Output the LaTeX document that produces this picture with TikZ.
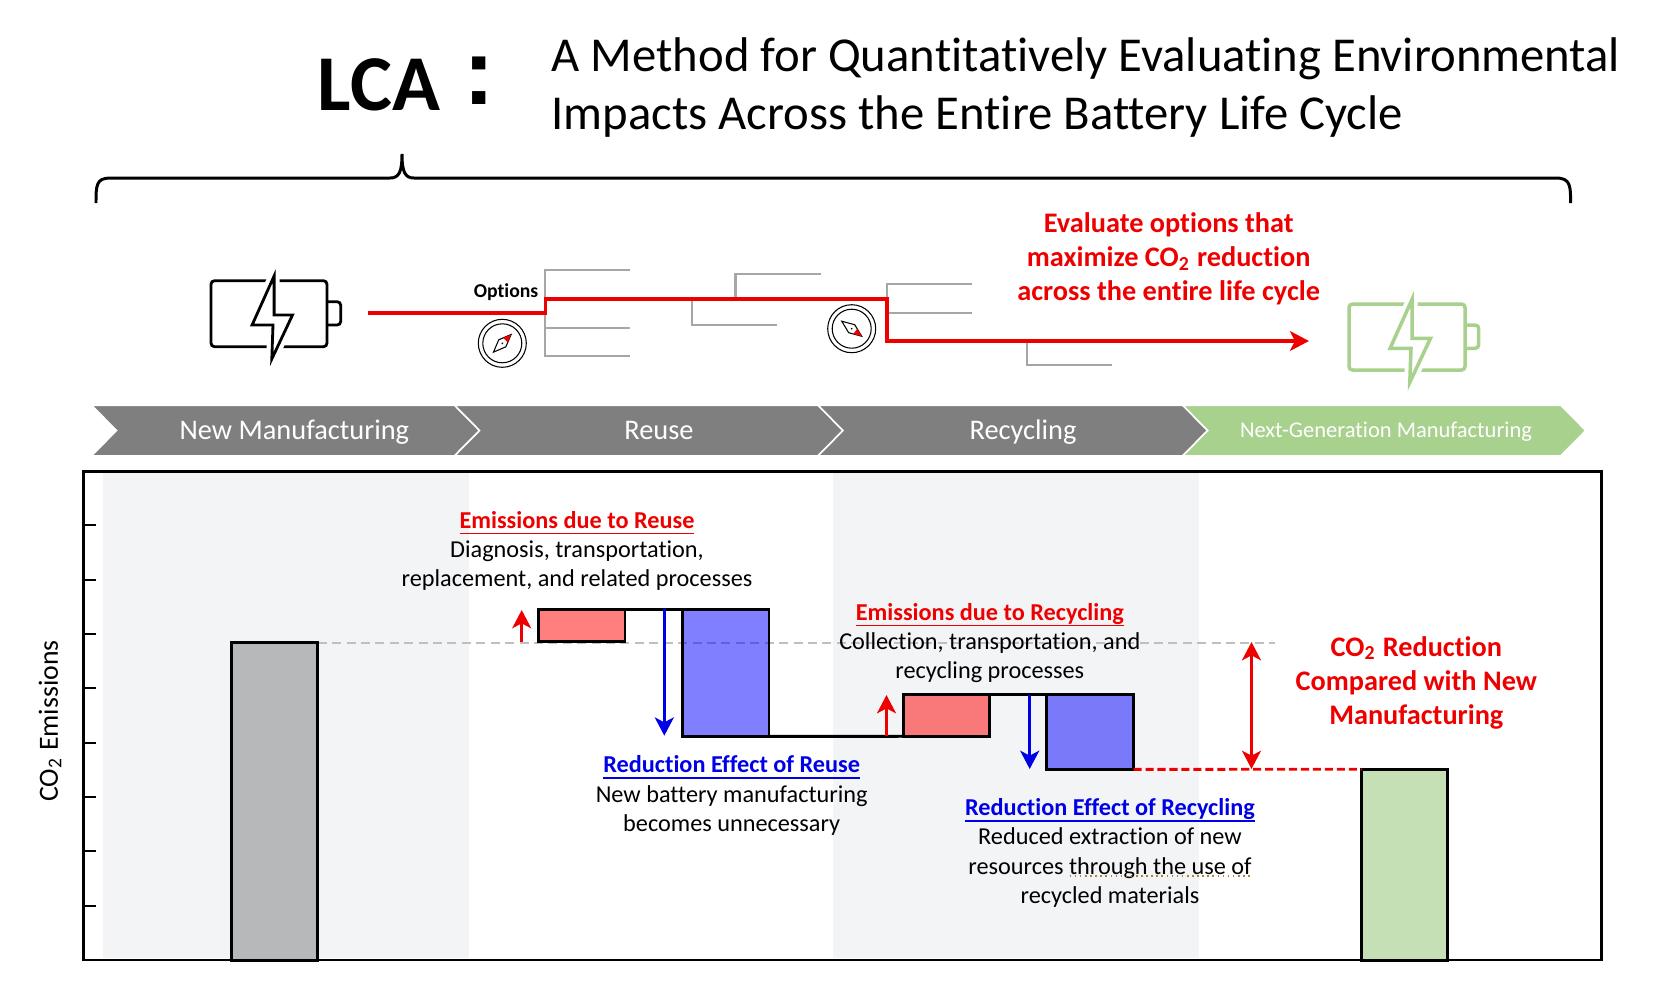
\documentclass[tikz,border=0pt]{standalone}
\usepackage{fontspec}
\setmainfont{Carlito}[Ligatures=NoCommon]
\newfontfamily\colonfont{Liberation Sans}
\usetikzlibrary{arrows.meta}
\definecolor{redln}{RGB}{238,0,0}
\definecolor{bluln}{RGB}{0,0,230}
\definecolor{stage}{RGB}{127,127,127}
\definecolor{nextg}{RGB}{169,209,142}
\definecolor{barnew}{RGB}{183,184,186}
\definecolor{barnx}{RGB}{197,224,180}
\definecolor{band}{RGB}{243,244,246}
\definecolor{tree}{RGB}{166,166,166}
\definecolor{refdash}{RGB}{191,191,191}
\definecolor{spell}{RGB}{176,128,64}
\tikzset{
  bodytxt/.style={font=\fontsize{6.9}{8.25}\selectfont, align=center, anchor=base, inner sep=0pt},
  bigred/.style={font=\fontsize{8.05}{9.67}\selectfont\bfseries, text=redln, align=center, anchor=base, inner sep=0pt},
  stagetxt/.style={text=white, anchor=base, inner sep=0pt},
  bar/.style={draw=black, line width=0.8pt, inner sep=0pt, outer sep=0pt, anchor=north west},
  gainbar/.style={bar, fill opacity=0.5, draw opacity=1},
  treeln/.style={tree, line width=0.6pt},
  redhd/.style={redln, line width=0.8pt},
  bluhd/.style={bluln, line width=0.85pt},
}
\newsavebox{\ulsave}
\newcommand{\ulbox}[1]{\sbox{\ulsave}{#1}\rlap{\usebox{\ulsave}}\rule[-1.6pt]{\wd\ulsave}{0.4pt}}
\newcommand{\hdred}[1]{{\bfseries\color{redln}\ulbox{#1}}}
\newcommand{\hdblu}[1]{{\bfseries\color{bluln}\ulbox{#1}}}
\newcommand{\cotwo}{CO\textsubscript{2}}
\newcommand{\batteryicon}[4]{%
  \begin{scope}[shift={(#2,#3)}, #1, line width=#4]
    \draw[rounded corners=1pt] (211,280.7) rectangle (327,346.7);
    \draw[rounded corners=1pt] (327,301.7) -- (340.7,301.7) -- (340.7,325) -- (327,325);
    \draw[white, line width=3.2pt] (274.1,276) -- (252.1,325) -- (273,325) -- (271.8,359) -- (292.5,315) -- (274.1,315) -- cycle;
    \draw[fill=white] (274.1,276) -- (252.1,325) -- (273,325) -- (271.8,359) -- (292.5,315) -- (274.1,315) -- cycle;
  \end{scope}}
\newcommand{\compassicon}[3]{%
  \begin{scope}[shift={(#1,#2)}, line width=0.3pt]
    \draw (0,0) circle (24);
    \draw (0,0) circle (19.5);
    \begin{scope}[rotate=#3]
      \draw[fill=white] (-12.5,0) -- (0,5) -- (12.5,0) -- (0,-5) -- cycle;
      \fill[redln] (12.5,0) -- (4.5,3.2) -- (4.5,-3.2) -- cycle;
      \fill (0,0) circle (1);
    \end{scope}
  \end{scope}}

\begin{document}
\begin{tikzpicture}[x=0.01cm, y=-0.01cm, >={Stealth[length=5.2pt,width=5.4pt,inset=1.4pt]}]
  \useasboundingbox (0,0) rectangle (1672,1005);
  % title
  \node[font=\fontsize{22.5}{24}\selectfont\bfseries, anchor=base west, inner sep=0pt] (lca) at (317,110.7) {LCA};
  \node[font=\fontsize{26.8}{30}\colonfont\bfseries, anchor=base, inner sep=0pt] (colon) at (479,104) {:};
  \node[font=\fontsize{13.85}{16.3}\selectfont, align=left, anchor=base west, inner sep=0pt] (ttl) at (551,129)
    {A Method for Quantitatively Evaluating Environmental\\Impacts Across the Entire Battery Life Cycle};
  % brace
  \draw[line width=0.85pt] (96,203) .. controls (96,186) and (96,178) .. (110,178) -- (390,178)
    .. controls (399,178) and (402,172) .. (402,154) .. controls (402,172) and (405,178) .. (414,178)
    -- (1556,178) .. controls (1570.6,178) and (1570.6,186) .. (1570.6,203);
  % batteries
  \batteryicon{black}{0}{0}{0.8pt}
  \batteryicon{nextg}{1138}{23.3}{1pt}
  % branches
  \draw[treeln] (630,270) -- (545,270) -- (545,356) -- (630,356);
  \draw[treeln] (545,328) -- (630,328);
  \draw[treeln] (735.5,299) -- (735.5,273.7) -- (820.5,273.7);
  \draw[treeln] (692.4,299) -- (692.4,325) -- (777,325);
  \draw[treeln] (972,284) -- (887.2,284) -- (887.2,312.7) -- (972,312.7);
  \draw[treeln] (1026.9,341) -- (1026.9,364.7) -- (1112,364.7);
  % chosen route
  \coordinate (routeA) at (368,312.7);
  \coordinate (routeB) at (1309,341);
  \draw[->, redln, line width=1.05pt, >={Stealth[length=5.4pt,width=5.6pt,inset=1.4pt]}]
    (routeA) -- (545.5,312.7) -- (545.5,299) -- (887.2,299) -- (887.2,341) -- (routeB);
  \node[font=\fontsize{5.6}{7}\selectfont\bfseries, anchor=base east, inner sep=0pt] (opts) at (539,297.2) {Options};
  \compassicon{502.3}{343.3}{45}
  \compassicon{851.7}{328.7}{-37}
  \node[bigred] (evalnote) at (1168.7,300.8) {Evaluate options that\\maximize \cotwo{} reduction\\across the entire life cycle};
  % stages
  \foreach \xl/\xs/\col in {91.5/454.6/stage, 454.6/818/stage, 818/1182.7/stage, 1182.7/1560.8/nextg}
    \draw[fill=\col, draw=white, line width=0.45pt] (\xl,405.2) -- (\xs,405.2) -- (\xs+25,430.5) -- (\xs,455.8)
      -- (\xl,455.8) -- (\xl+25,430.5) -- cycle;
  \node[stagetxt, font=\fontsize{8.07}{10}\selectfont] (stnew) at (294.3,439.3) {New Manufacturing};
  \node[stagetxt, font=\fontsize{8.07}{10}\selectfont] (streuse) at (659,439.3) {Reuse};
  \node[stagetxt, font=\fontsize{8.07}{10}\selectfont] (strecy) at (1023,439.3) {Recycling};
  \node[stagetxt, font=\fontsize{6.4}{8}\selectfont] (stnext) at (1386,437.7) {Next-Generation Manufacturing};
  % bands under everything in the chart
  \fill[band] (102.7,473) rectangle (469,958);
  \fill[band] (832.7,473) rectangle (1198.7,958);
  % reference level
  \coordinate (refend) at (1275,642.7);
  \coordinate (refstart) at (317.7,642.7);
  \draw[refdash, line width=0.55pt, dash pattern=on 2.56pt off 1.54pt] (refstart) -- (refend);
  % bars
  \node[bar, fill=barnew, minimum width=0.864cm, minimum height=3.173cm] (barnew) at (231.3,642.7) {};
  \node[gainbar, fill=red, minimum width=0.867cm, minimum height=0.324cm] (emreuse) at (538.3,609.3) {};
  \node[gainbar, fill=blue, minimum width=0.867cm, minimum height=1.27cm] (rdreuse) at (682.3,609.3) {};
  \node[gainbar, fill=red, minimum width=0.863cm, minimum height=0.416cm] (emrecy) at (903.5,694.7) {};
  \node[gainbar, fill=blue, minimum width=0.872cm, minimum height=0.746cm] (rdrecy) at (1046.3,694.7) {};
  \node[bar, fill=barnx, minimum width=0.858cm, minimum height=1.907cm] (barnext) at (1361.7,769.3) {};
  % links
  \draw[line width=0.8pt] (emreuse.north east) -- (rdreuse.north west);
  \draw[line width=0.8pt] (rdreuse.south east) -- (emrecy.south west);
  \draw[line width=0.8pt] (emrecy.north east) -- (rdrecy.north west);
  \draw[redln, line width=0.8pt, dash pattern=on 2.3pt off 1.1pt] (rdrecy.south east) -- (barnext.north west);
  % arrows
  \coordinate (upa0) at (521.7,642); \coordinate (upa1) at (521.7,610);
  \coordinate (dna0) at (664.3,609.3); \coordinate (dna1) at (664.3,735.7);
  \coordinate (upb0) at (886.5,736); \coordinate (upb1) at (886.5,695);
  \coordinate (dnb0) at (1029.7,694.7); \coordinate (dnb1) at (1029.7,769);
  \coordinate (gain0) at (1251.5,642); \coordinate (gain1) at (1251.5,769);
  \draw[->, redhd] (upa0) -- (upa1);
  \draw[->, bluhd] (dna0) -- (dna1);
  \draw[->, redhd] (upb0) -- (upb1);
  \draw[->, bluhd] (dnb0) -- (dnb1);
  \draw[<->, redhd] (gain0) -- (gain1);
  % chart frame
  \draw[line width=0.8pt] (83.5,471.7) rectangle (1601.6,960);
  \foreach \yt in {524.7, 579.7, 634, 687.7, 743, 797, 850.7, 905.7}
    \draw[line width=0.6pt] (83.5,\yt) -- (95.7,\yt);
  \node[font=\fontsize{7.9}{9}\selectfont, rotate=90, inner sep=0pt] (ylab) at (50,721) {\cotwo{} Emissions};
  % notes
  \node[bodytxt] (ntreuse) at (577,586.7) {\hdred{Emissions due to Reuse}\\Diagnosis, transportation,\\replacement, and related processes};
  \node[bodytxt] (ntrdreuse) at (731.7,831) {\hdblu{Reduction Effect of Reuse}\\New battery manufacturing\\becomes unnecessary};
  \node[bodytxt] (ntrecy) at (989.8,678.3) {\hdred{Emissions due to Recycling}\\Collection, transportation, and\\recycling processes};
  \node[bodytxt] (ntrdrecy) at (1110,903) {\hdblu{Reduction Effect of Recycling}\\Reduced extraction of new\\resources through the use of\\recycled materials};
  \draw[spell, line width=0.45pt, densely dotted] (1069.7,875.7) -- (1251.5,875.7);
  \node[bigred] (ntgain) at (1416.3,724) {\cotwo{} Reduction\\Compared with New\\Manufacturing};
\end{tikzpicture}
\end{document}
